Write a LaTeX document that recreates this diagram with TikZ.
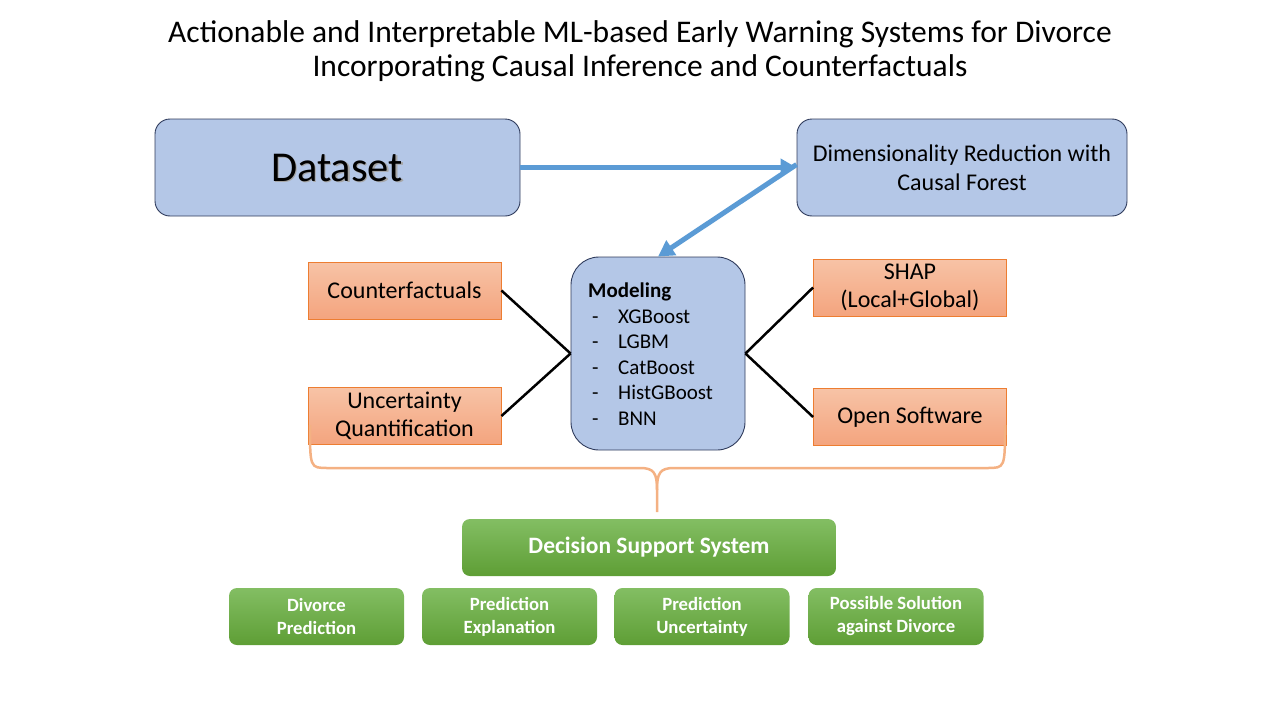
\documentclass[tikz,border=0pt]{standalone}
\usepackage{fontspec}
\setmainfont{Carlito}
\usetikzlibrary{arrows.meta}
\definecolor{bluefill}{HTML}{B4C7E7}
\definecolor{blueline}{HTML}{2F3B5C}
\definecolor{arrowblue}{HTML}{5B9BD5}
\definecolor{orangetop}{HTML}{F7C3A6}
\definecolor{orangebot}{HTML}{F4A47E}
\definecolor{orangeline}{HTML}{ED7D31}
\definecolor{bracecol}{HTML}{F4B183}
\definecolor{greentop}{HTML}{83BE63}
\definecolor{greenbot}{HTML}{5E9E35}
\begin{document}
\begin{tikzpicture}[x=1pt,y=-1pt,
  bluebox/.style={draw=blueline, line width=0.9pt, fill=bluefill, rounded corners=15pt, inner sep=0pt, align=center},
  orangebox/.style={draw=orangeline, line width=0.9pt, top color=orangetop, bottom color=orangebot, inner sep=0pt, align=center, minimum width=193pt, minimum height=57pt, font=\fontsize{24}{28}\selectfont},
  greenbox/.style={draw=none, top color=greentop, bottom color=greenbot, rounded corners=8pt, inner sep=0pt, align=center, text=white},
  smallgreen/.style={greenbox, minimum width=175pt, minimum height=57pt, font=\bfseries\fontsize{18.7}{23}\selectfont},
  bluearrow/.style={draw=arrowblue, line width=5pt, -{Triangle[length=16pt,width=17pt]}},
  blackline/.style={draw=black, line width=2.5pt},
  bracestyle/.style={draw=bracecol, line width=2.5pt}
]
\useasboundingbox (0,0) rectangle (1280,720);

% title
\node[align=center, font=\fontsize{31.5}{34}\selectfont] (title) at (640,51)
  {Actionable and Interpretable ML-based Early Warning Systems for Divorce\\Incorporating Causal Inference and Counterfactuals};

% top boxes
\node[bluebox, minimum width=365pt, minimum height=97pt] (dataset) at (337.5,167.5) {};
\node[text=black!35, font=\fontsize{42.5}{48}\selectfont] (dsshadow) at (338.5,169.5) {Dataset};
\node[font=\fontsize{42.5}{48}\selectfont] (dstext) at (337,168) {Dataset};

\node[bluebox, minimum width=330pt, minimum height=97pt, font=\fontsize{24}{29}\selectfont] (dim) at (962,167.5)
  {Dimensionality Reduction with\\Causal Forest};

% modeling
\node[bluebox, rounded corners=28pt, minimum width=174pt, minimum height=193pt] (model) at (658,353.5) {};
\node[anchor=north west, inner sep=0pt, align=left, font=\fontsize{21}{25.5}\selectfont] (modtext) at (588,283)
  {\textbf{Modeling}\\
   \makebox[30pt][l]{\hspace{4pt}-}XGBoost\\
   \makebox[30pt][l]{\hspace{4pt}-}LGBM\\
   \makebox[30pt][l]{\hspace{4pt}-}CatBoost\\
   \makebox[30pt][l]{\hspace{4pt}-}HistGBoost\\
   \makebox[30pt][l]{\hspace{4pt}-}BNN};

% orange boxes
\node[orangebox] (cf) at (404.5,290.5) {Counterfactuals};
\node[orangebox] (uq) at (404.5,416) {Uncertainty\\Quantification};
\node[orangebox] (shap) at (910,287.5) {SHAP\\(Local+Global)};
\node[orangebox] (os) at (910,417) {Open Software};

% arrows
\draw[bluearrow] (dataset.east) -- (dim.west);
\draw[bluearrow] ([yshift=3pt]dim.west) -- (model.north);

% black connectors
\draw[blackline] (cf.east) -- (model.west);
\draw[blackline] (uq.east) -- (model.west);
\draw[blackline] (shap.west) -- (model.east);
\draw[blackline] (os.west) -- (model.east);

% brace
\coordinate (bl) at (310,425);
\coordinate (br) at (1005,425);
\coordinate (tip) at (657,512);
\draw[bracestyle] (bl) .. controls (310,468) and (310,468) .. (328,468) -- (640,468)
  .. controls (654,468) and (657,473) .. (657,490) -- (tip);
\draw[bracestyle] (br) .. controls (1005,468) and (1005,468) .. (987,468) -- (674,468)
  .. controls (660,468) and (657,473) .. (657,490);

% green boxes
\node[greenbox, minimum width=374pt, minimum height=57pt, font=\bfseries\fontsize{23.5}{27}\selectfont] (dss) at (649,547.5)
  {Decision Support System};
\node[smallgreen] (g1) at (316.5,616.5) {Divorce\\Prediction};
\node[smallgreen] (g2) at (509.5,616.5) {Prediction\\Explanation};
\node[smallgreen] (g3) at (702,616.5) {Prediction\\Uncertainty};
\node[smallgreen] (g4) at (896,616.5) {Possible Solution\\against Divorce};
\end{tikzpicture}
\end{document}
